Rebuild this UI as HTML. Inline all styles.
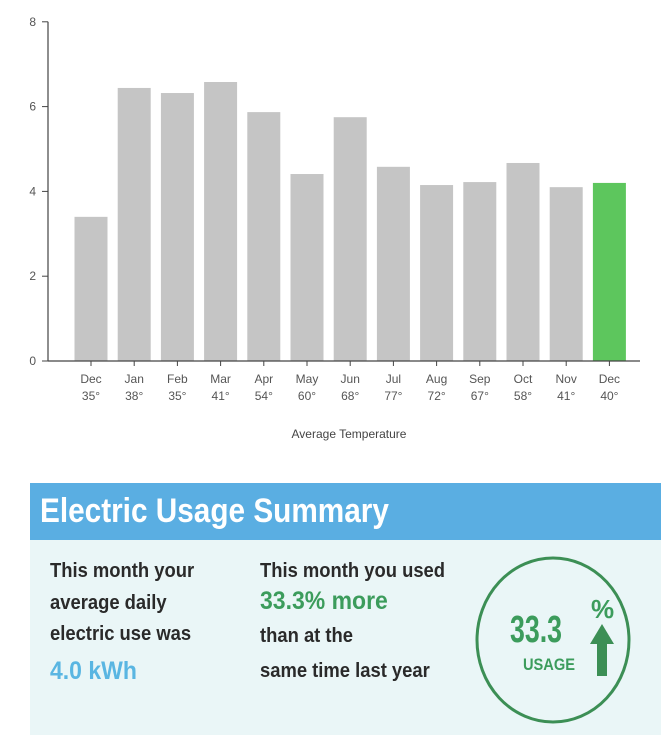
<!DOCTYPE html>
<html><head><meta charset="utf-8"><style>
body{margin:0;width:661px;height:735px;background:#fff;overflow:hidden;position:relative;font-family:"Liberation Sans",sans-serif}
.t{position:absolute;font-weight:bold;font-size:20px;color:#2a2a2a;white-space:nowrap;line-height:1;transform:scaleX(0.92);transform-origin:left top}
</style></head><body>
<svg width="661" height="460" style="position:absolute;left:0;top:0" id="chart"></svg>

<div style="position:absolute;left:30px;top:483px;width:631px;height:57px;background:#5aaee2"></div>
<div style="position:absolute;left:40px;top:494px;font-size:34px;font-weight:bold;color:#fff;line-height:1;white-space:nowrap;transform:scaleX(0.875);transform-origin:left top">Electric Usage Summary</div>
<div style="position:absolute;left:30px;top:540px;width:631px;height:195px;background:#eaf6f7"></div>

<div class="t" style="left:50px;top:561px">This month your</div>
<div class="t" style="left:50px;top:593px">average daily</div>
<div class="t" style="left:50px;top:624px">electric use was</div>
<div class="t" style="left:50px;top:659px;font-size:25px;color:#5ab6e2">4.0 kWh</div>

<div class="t" style="left:260px;top:561px">This month you used</div>
<div class="t" style="left:260px;top:589px;font-size:25px;color:#3c9c5c">33.3% more</div>
<div class="t" style="left:260px;top:626px">than at the</div>
<div class="t" style="left:260px;top:661px">same time last year</div>

<svg width="661" height="735" style="position:absolute;left:0;top:0">
<ellipse cx="553" cy="640" rx="76" ry="82" fill="none" stroke="#3c8f55" stroke-width="3"/>
<text x="510" y="642" textLength="52" lengthAdjust="spacingAndGlyphs" font-family="Liberation Sans,sans-serif" font-weight="bold" font-size="38" fill="#3c9c5c">33.3</text>
<text x="591" y="618" font-family="Liberation Sans,sans-serif" font-weight="bold" font-size="26" fill="#3c9c5c">%</text>
<text x="523" y="670" textLength="52" lengthAdjust="spacingAndGlyphs" font-family="Liberation Sans,sans-serif" font-weight="bold" font-size="17" fill="#3c9c5c">USAGE</text>
<polygon points="602,624 614,644 607,644 607,676 597,676 597,644 590,644" fill="#3c8f55"/>
</svg>

<script>
const months=["Dec","Jan","Feb","Mar","Apr","May","Jun","Jul","Aug","Sep","Oct","Nov","Dec"];
const temps=["35°","38°","35°","41°","54°","60°","68°","77°","72°","67°","58°","41°","40°"];
const usage=[3.4,6.44,6.32,6.58,5.87,4.41,5.75,4.58,4.15,4.22,4.67,4.1,4.2];
const yTicks=[0,2,4,6,8];
const svg=document.getElementById('chart');
const NS='http://www.w3.org/2000/svg';
const y=v=>361-v*42.4;
const x=i=>91+i*43.2;
function mk(t,a){const e=document.createElementNS(NS,t);for(const k in a)e.setAttribute(k,a[k]);svg.appendChild(e);return e;}
usage.forEach((v,i)=>{
  const r=mk('rect',{x:x(i)-16.5,y:y(v),width:33,height:y(0)-y(v),fill:i===usage.length-1?'#5dc65d':'#c5c5c5'});
  
  
  const t1=mk('text',{x:x(i),y:383,'text-anchor':'middle','font-size':12,fill:'#555','font-family':'Liberation Sans,sans-serif'});t1.textContent=months[i];
  
  
  const t2=mk('text',{x:x(i),y:400,'text-anchor':'middle','font-size':12,fill:'#555','font-family':'Liberation Sans,sans-serif'});t2.textContent=temps[i];
  
  
  mk('line',{x1:x(i),x2:x(i),y1:361,y2:366,stroke:'#444'});
});
yTicks.forEach(v=>{
  mk('line',{x1:42,x2:48,y1:y(v),y2:y(v),stroke:'#444'});
  const t=mk('text',{x:36,y:y(v)+4,'text-anchor':'end','font-size':12,fill:'#555','font-family':'Liberation Sans,sans-serif'});t.textContent=v;
  
  
});
const ya=mk('line',{x1:48,x2:48,y1:y(8),y2:361,stroke:'#444','stroke-width':1.2});


const xa=mk('line',{x1:48,x2:640,y1:361,y2:361,stroke:'#444','stroke-width':1.2});


const tt=mk('text',{x:349,y:438,'text-anchor':'middle','font-size':12,fill:'#444','font-family':'Liberation Sans,sans-serif'});tt.textContent='Average Temperature';


</script>
</body></html>
